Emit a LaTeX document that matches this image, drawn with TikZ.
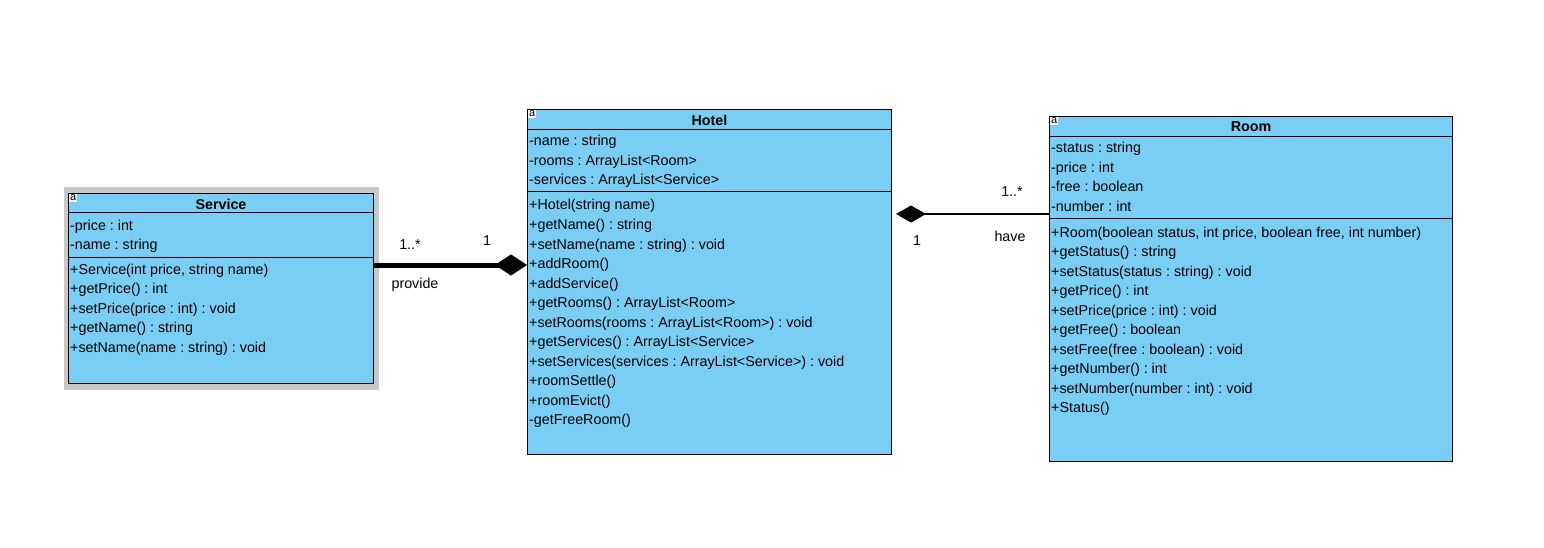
\documentclass[tikz,border=0pt]{standalone}
\usepackage{fontspec}
\setmainfont{Liberation Sans}
\usetikzlibrary{arrows.meta, positioning, calc}
\definecolor{classfill}{RGB}{122,206,245}
\definecolor{shadowgray}{RGB}{200,200,200}

\begin{document}
\frenchspacing
\begin{tikzpicture}[x=1pt, y=-1pt,
    classbox/.style={draw, fill=classfill, anchor=north west, inner sep=0pt, line width=1pt},
    title/.style={font=\bfseries\fontsize{14.3}{16}\selectfont, inner sep=0pt},
    row/.style={anchor=west, inner sep=0pt, font=\fontsize{14.3}{16}\selectfont, text height=10pt, text depth=3pt},
    tag/.style={fill=white, inner sep=0.8pt, font=\fontsize{11}{11}\selectfont, anchor=north west},
    mult/.style={font=\fontsize{14.3}{16}\selectfont, inner sep=0pt},
    composition/.style={{Diamond[length=30pt, width=17pt, line width=1pt]}-},
    bigcomposition/.style={{Diamond[length=32pt, width=21pt, line width=0.5pt]}-}
]
    \useasboundingbox (0,0) rectangle (1544,548);

    % Service
    \fill[shadowgray] (64,187) rectangle (379,390);
    \node[classbox, minimum width=305pt, minimum height=190pt] at (68,193) (service) {};
    \node[tag] at ($(service.north west)+(1,1)$) (servicetag) {a};
    \node[title] at ($(service.north)+(0,11)$) (servicetitle) {Service};
    \draw[line width=1pt] ($(service.north west)+(0,20)$) -- ($(service.north east)+(0,20)$);
    \draw[line width=1pt] ($(service.north west)+(0,64)$) -- ($(service.north east)+(0,64)$);
    \foreach \txt [count=\i from 0] in {-price : int, -name : string}
        \node[row] at (70, {226.5+19.5*\i}) (servicea\i) {\txt};
    \foreach \txt [count=\i from 0] in {{+Service(int price, string name)}, +getPrice() : int,
        +setPrice(price : int) : void, +getName() : string, +setName(name : string) : void}
        \node[row] at (70, {270.5+19.5*\i}) (servicem\i) {\txt};

    % Hotel
    \node[classbox, minimum width=364pt, minimum height=345pt] at (527,109) (hotel) {};
    \node[tag] at ($(hotel.north west)+(1,1)$) (hoteltag) {a};
    \node[title] at ($(hotel.north)+(0,11)$) (hoteltitle) {Hotel};
    \draw[line width=1pt] ($(hotel.north west)+(0,21)$) -- ($(hotel.north east)+(0,21)$);
    \draw[line width=1pt] ($(hotel.north west)+(0,83)$) -- ($(hotel.north east)+(0,83)$);
    \foreach \txt [count=\i from 0] in {-name : string, -rooms : ArrayList<Room>,
        -services : ArrayList<Service>}
        \node[row] at (529, {142.5+19.5*\i}) (hotela\i) {\txt};
    \foreach \txt [count=\i from 0] in {+Hotel(string name), +getName() : string,
        +setName(name : string) : void, +addRoom(), +addService(),
        +getRooms() : ArrayList<Room>, +setRooms(rooms : ArrayList<Room>) : void,
        +getServices() : ArrayList<Service>, +setServices(services : ArrayList<Service>) : void,
        +roomSettle(), +roomEvict(), -getFreeRoom()}
        \node[row] at (529, {206.5+19.5*\i}) (hotelm\i) {\txt};

    % Room
    \node[classbox, minimum width=403pt, minimum height=345pt] at (1049,116) (room) {};
    \node[tag] at ($(room.north west)+(1,1)$) (roomtag) {a};
    \node[title] at ($(room.north)+(0,11)$) (roomtitle) {Room};
    \draw[line width=1pt] ($(room.north west)+(0,21)$) -- ($(room.north east)+(0,21)$);
    \draw[line width=1pt] ($(room.north west)+(0,102)$) -- ($(room.north east)+(0,102)$);
    \foreach \txt [count=\i from 0] in {-status : string, -price : int, -free : boolean, -number : int}
        \node[row] at (1051, {149.5+19.5*\i}) (rooma\i) {\txt};
    \foreach \txt [count=\i from 0] in {{+Room(boolean status, int price, boolean free, int number)},
        +getStatus() : string, +setStatus(status : string) : void, +getPrice() : int,
        +setPrice(price : int) : void, +getFree() : boolean, +setFree(free : boolean) : void,
        +getNumber() : int, +setNumber(number : int) : void, +Status()}
        \node[row] at (1051, {233.5+19.5*\i}) (roomm\i) {\txt};

    % associations
    \coordinate (provport) at ($(service.north east)+(0,72)$);
    \draw[line width=5pt, bigcomposition] (hotel.west |- provport) -- (provport);
    \node[mult] at (410,245) (provmany) {1..*};
    \node[mult] at (487,241) (provone) {1};
    \node[mult] at (415,285) (provname) {provide};

    \coordinate (haveport) at ($(room.north west)+(0,98)$);
    \draw[line width=1.3pt, composition, shorten <=4pt] (hotel.east |- haveport) -- (haveport);
    \node[mult] at (1012,192) (havemany) {1..*};
    \node[mult] at (917,241) (haveone) {1};
    \node[mult] at (1010,236) (havename) {have};
\end{tikzpicture}
\end{document}
